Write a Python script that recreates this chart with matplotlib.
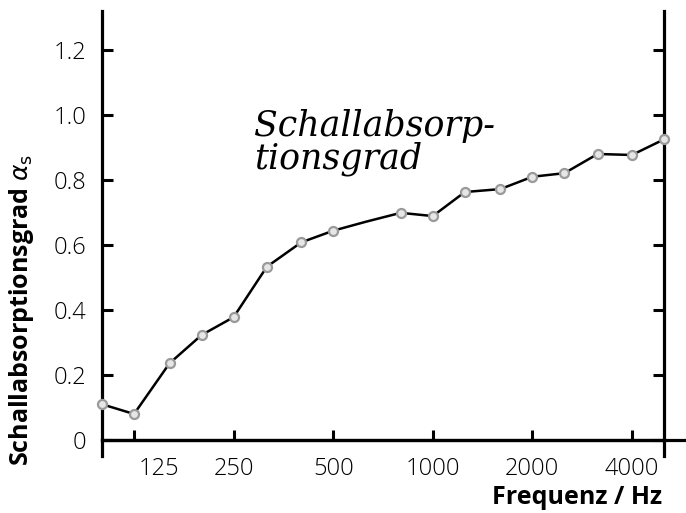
import matplotlib
matplotlib.use("Agg")
import matplotlib.pyplot as plt
import matplotlib.transforms as mtransforms

# third-octave band centre frequencies (Hz)
freqs = [100, 125, 160, 200, 250, 315, 400, 500, 630, 800, 1000,
         1250, 1600, 2000, 2500, 3150, 4000, 5000]
alpha = [0.11, 0.08, 0.236, 0.323, 0.378, 0.533, 0.608, 0.644, 0.672, 0.699,
         0.689, 0.763, 0.772, 0.81, 0.821, 0.88, 0.877, 0.925]
# bands that carry a measurement marker (630 Hz has none)
marked = [0, 1, 2, 3, 4, 5, 6, 7, 9, 10, 11, 12, 13, 14, 15, 16, 17]

xticks = [125, 250, 500, 1000, 2000, 4000]
xticklabels = ["125", "250", "500", "1000", "2000", "4000"]
yticks = [0, 0.2, 0.4, 0.6, 0.8, 1.0, 1.2]
yticklabels = ["0", "0.2", "0.4", "0.6", "0.8", "1.0", "1.2"]

W, H = 686, 513
fig = plt.figure(figsize=(W / 100, H / 100), dpi=100)
left_px, right_px = 102, 664
top_px, bot_px = 11, 456.25
ax = fig.add_axes([left_px / W, 1 - bot_px / H,
                   (right_px - left_px) / W, (bot_px - top_px) / H])

ax.plot(freqs, alpha, color="black", lw=1.8, zorder=3)
ax.plot([freqs[i] for i in marked], [alpha[i] for i in marked],
        linestyle="none", marker="o", ms=6.5, mew=1.6,
        mec="#9a9a9a", mfc="#e6e6e6", zorder=4, clip_on=False)

ax.set_xscale("log")
ax.set_xlim(100, 5000)
ax.set_ylim(-0.05, 1.32)

for s in ["left", "right"]:
    ax.spines[s].set_linewidth(2.3)
ax.spines["top"].set_visible(False)
ax.spines["bottom"].set_position(("data", 0))
ax.spines["bottom"].set_linewidth(2.3)

# extend the base line beyond the right axis to the figure edge
trans = mtransforms.blended_transform_factory(ax.transAxes, ax.transData)
ax.plot([0, (W - left_px) / (right_px - left_px)], [0, 0], transform=trans,
        color="black", lw=2.3, clip_on=False, zorder=2)

ax.set_yticks(yticks)
ax.set_yticklabels(yticklabels)
ax.tick_params(axis="y", which="major", direction="in", length=8, width=2.2,
               right=True, labelsize=17, pad=11, labelright=False)
ax.set_xticks(xticks)
ax.set_xticklabels([""] + xticklabels[1:])
ax.xaxis.set_minor_locator(matplotlib.ticker.NullLocator())
ax.tick_params(axis="x", which="major", direction="in", length=7, width=2.2,
               labelsize=17, pad=12)
for lab in ax.get_xticklabels() + ax.get_yticklabels():
    lab.set_fontfamily("Open Sans")
    lab.set_fontweight("light")

# first x label is set slightly to the right of its tick
shift = mtransforms.ScaledTranslation(25 / 100, -12 / 72, fig.dpi_scale_trans)
ax.text(xticks[0], 0, xticklabels[0], transform=ax.transData + shift,
        ha="center", va="top", fontsize=17, family="Open Sans",
        fontweight="light")

fig.text(577 / W, 1 - 497 / H, "Frequenz / Hz", ha="center", va="center",
         fontsize=18, fontweight="bold", family="Open Sans")
fig.text(22 / W, 1 - 310 / H, r"Schallabsorptionsgrad $\alpha_\mathrm{s}$",
         rotation=90, ha="center", va="center", fontsize=18,
         fontweight="bold", family="Open Sans")

ax.text(0.27, 0.78, "Schallabsorp-\ntionsgrad", transform=ax.transAxes,
        ha="left", va="top", fontsize=25, family="DejaVu Serif",
        style="italic", fontweight="light", linespacing=0.95)

fig.savefig("out.png", dpi=100)
